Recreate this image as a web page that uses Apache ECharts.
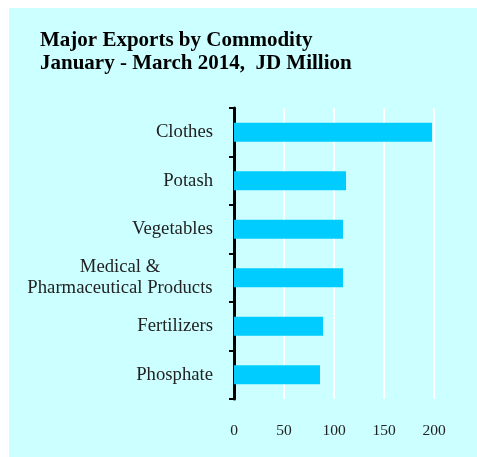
<!DOCTYPE html>
<html>
<head>
<meta charset="utf-8">
<script src="https://cdn.jsdelivr.net/npm/echarts@6/dist/echarts.min.js"></script>
<style>
  html, body { margin: 0; padding: 0; background: #ffffff; width: 477px; height: 457px; overflow: hidden; }
  #chart { position: absolute; left: 9px; top: 8px; width: 468px; height: 449px; background: #ccffff; }
</style>
</head>
<body>
<div id="chart"></div>
<script>
// Major exports, January - March 2014 (JD million)
const categories = ['Clothes', 'Potash', 'Vegetables', 'Medical &\nPharmaceutical Products', 'Fertilizers', 'Phosphate'];
const exportValues = [198, 112, 109, 109, 89, 86];
const xTicks = [0, 50, 100, 150, 200];

const serif = '"Liberation Serif", "DejaVu Serif", serif';
const chart = echarts.init(document.getElementById('chart'), null, { renderer: 'canvas' });

// multi-line category names are centred line by line inside a right-aligned block
function categoryLabel(value) {
  if (value.indexOf('\n') < 0) return value;
  return value.split('\n').map(function (line) { return '{c|' + line + '}'; }).join('\n');
}

chart.setOption({
  backgroundColor: 'transparent',
  animation: false,
  title: {
    text: 'Major Exports by Commodity\nJanuary - March 2014,  JD Million',
    left: 31,
    top: 21,
    padding: 0,
    textStyle: {
      fontFamily: serif,
      fontWeight: 'bold',
      fontSize: 21,
      lineHeight: 23,
      color: '#000000'
    }
  },
  grid: { left: 225, right: 43, top: 100, bottom: 58, containLabel: false },
  xAxis: {
    type: 'value',
    min: xTicks[0],
    max: xTicks[xTicks.length - 1],
    interval: 50,
    axisLine: { show: false },
    axisTick: { show: false },
    axisLabel: { margin: 24, fontFamily: serif, fontSize: 15.5, color: '#222222' },
    splitLine: { show: true, lineStyle: { color: '#ffffff', width: 2 } }
  },
  yAxis: {
    type: 'category',
    data: categories,
    inverse: true,
    axisLine: { show: true, lineStyle: { color: '#000000', width: 3 } },
    axisTick: { show: true, length: 5, alignWithLabel: false, lineStyle: { color: '#000000', width: 2 } },
    axisLabel: {
      margin: 21,
      fontFamily: serif,
      fontSize: 18.7,
      lineHeight: 21,
      color: '#222222',
      align: 'right',
      formatter: categoryLabel,
      rich: {
        c: { width: 186, align: 'center', fontFamily: serif, fontSize: 18.7, lineHeight: 21, color: '#222222' }
      }
    },
    splitLine: { show: false }
  },
  series: [{
    type: 'bar',
    data: exportValues,
    barWidth: 19,
    itemStyle: { color: '#00ccff' },
    z: 1
  }]
});
</script>
</body>
</html>
